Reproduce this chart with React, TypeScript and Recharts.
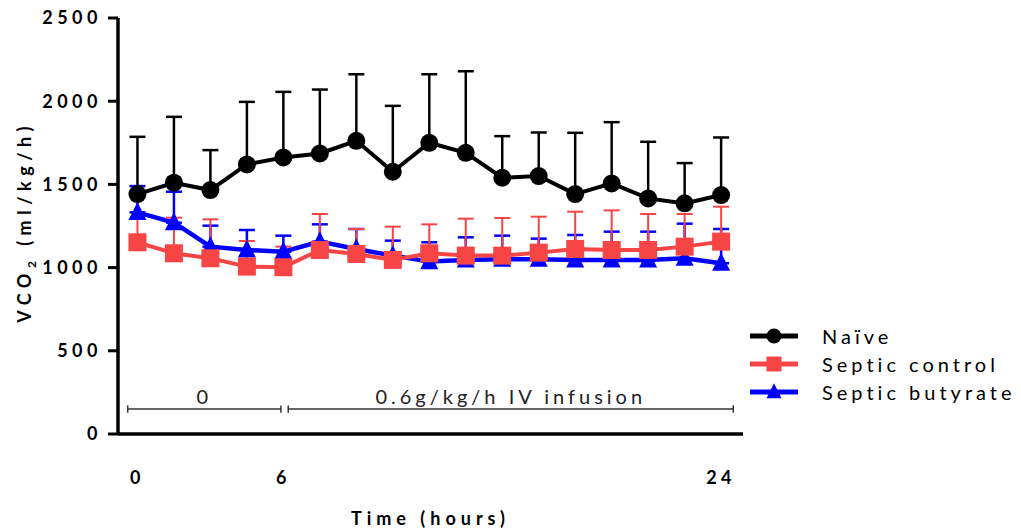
import {
  ComposedChart,
  Line,
  XAxis,
  YAxis,
  ErrorBar,
  ReferenceLine,
  Legend,
} from 'recharts';

// sampling times (h)
const HOURS = [0, 1.5, 3, 4.5, 6, 7.5, 9, 10.5, 12, 13.5, 15, 16.5, 18, 19.5, 21, 22.5, 24];

// VCO2 means and SD (ml/kg/h)
const NAIVE = [1442, 1510, 1466, 1620, 1662, 1686, 1762, 1576, 1750, 1690, 1540, 1550, 1442, 1506, 1416, 1386, 1436];
const NAIVE_SD = [344, 396, 240, 376, 394, 384, 400, 396, 412, 490, 250, 262, 368, 368, 340, 242, 346];

const SEPTIC_CONTROL = [1152, 1086, 1056, 1006, 1002, 1106, 1082, 1046, 1086, 1072, 1072, 1090, 1112, 1106, 1106, 1126, 1156];
const SEPTIC_CONTROL_SD = [298, 214, 234, 154, 124, 216, 150, 200, 174, 222, 226, 216, 224, 238, 216, 196, 210];

const SEPTIC_BUTYRATE = [1332, 1270, 1126, 1106, 1096, 1156, 1112, 1072, 1036, 1046, 1050, 1050, 1046, 1046, 1046, 1056, 1026];
const SEPTIC_BUTYRATE_SD = [158, 186, 126, 120, 96, 104, 120, 90, 116, 136, 142, 124, 150, 170, 170, 208, 206];

const X_TICKS = [0, 6, 24];
const Y_TICKS = [0, 500, 1000, 1500, 2000, 2500];

// infusion periods shown as brackets above the x axis
const PERIODS = [
  { from: -0.4, to: 5.9, label: '0' },
  { from: 6.2, to: 24.5, label: '0.6g/kg/h IV infusion' },
];
const PERIOD_Y = 150;
const CAP = 22;

const FONT = 'Lato, "Open Sans", sans-serif';
const RED = '#F74545';
const BLUE = '#0000FF';

type MarkerKind = 'circle' | 'square' | 'triangle';

const SERIES: Array<{ key: string; name: string; color: string; marker: MarkerKind }> = [
  { key: 'naive', name: 'Naïve', color: '#000000', marker: 'circle' },
  { key: 'control', name: 'Septic control', color: RED, marker: 'square' },
  { key: 'butyrate', name: 'Septic butyrate', color: BLUE, marker: 'triangle' },
];

const chartData = HOURS.map((hour, i) => ({
  hour,
  naive: NAIVE[i],
  naiveSd: [0, NAIVE_SD[i]],
  control: SEPTIC_CONTROL[i],
  controlSd: [0, SEPTIC_CONTROL_SD[i]],
  butyrate: SEPTIC_BUTYRATE[i],
  butyrateSd: [0, SEPTIC_BUTYRATE_SD[i]],
}));

function Marker({ kind, cx, cy, size, color }: { kind: MarkerKind; cx: number; cy: number; size: number; color: string }) {
  if (kind === 'circle') return <circle cx={cx} cy={cy} r={size / 2} fill={color} />;
  if (kind === 'square')
    return <rect x={cx - size / 2} y={cy - size / 2} width={size} height={size} fill={color} />;
  const pts = `${cx},${cy - size * 0.58} ${cx - size / 2},${cy + size * 0.42} ${cx + size / 2},${cy + size * 0.42}`;
  return <polygon points={pts} fill={color} />;
}

const makeDot = (kind: MarkerKind, color: string) => (props: any) => {
  const { cx, cy, index } = props;
  return (
    <g key={`${kind}-${index}`}>
      <Marker kind={kind} cx={cx} cy={cy} size={18} color={color} />
    </g>
  );
};

function LegendContent() {
  return (
    <div style={{ fontFamily: FONT, fontSize: 20, letterSpacing: 4, color: '#000' }}>
      {SERIES.map((s) => (
        <div key={s.key} style={{ display: 'flex', alignItems: 'center', height: 28 }}>
          <svg width={48} height={20} style={{ display: 'block' }}>
            <line x1={0} y1={10} x2={48} y2={10} stroke={s.color} strokeWidth={5} />
            <Marker kind={s.marker} cx={24} cy={10} size={15} color={s.color} />
          </svg>
          <span style={{ marginLeft: 24, whiteSpace: 'nowrap' }}>{s.name}</span>
        </div>
      ))}
    </div>
  );
}

function YTitle(props: any) {
  const { x, y, height } = props.viewBox;
  const cx = x + 31;
  const cy = y + height / 2 - 4;
  return (
    <text
      x={cx}
      y={cy}
      transform={`rotate(-90, ${cx}, ${cy})`}
      textAnchor="middle"
      fontFamily={FONT}
      fontWeight={700}
      fontSize={18}
      letterSpacing={5.5}
      fill="#000"
    >
      VCO
      <tspan dy={5} fontSize={12}>2</tspan>
      <tspan dy={-5}> (ml/kg/h)</tspan>
    </text>
  );
}

const tickStyle = {
  fontSize: 18,
  fontWeight: 700,
  fill: '#000',
  fontFamily: FONT,
  letterSpacing: 4.5,
};

export default function App() {
  return (
    <div style={{ position: 'absolute', left: 0, top: 0, width: 1021, height: 531, background: '#fff' }}>
      <ComposedChart
        width={1021}
        height={531}
        data={chartData}
        margin={{ top: 18, right: 278, bottom: 0, left: 0 }}
      >
        <XAxis
          dataKey="hour"
          type="number"
          domain={[-0.8, 24.9]}
          ticks={X_TICKS}
          allowDataOverflow
          height={97}
          tickLine={false}
          tickSize={6}
          tickMargin={31}
          axisLine={{ stroke: '#000', strokeWidth: 3.5 }}
          tick={tickStyle}
          label={{
            value: 'Time (hours)',
            position: 'insideBottom',
            offset: 6,
            fontFamily: FONT,
            fontWeight: 700,
            fontSize: 18,
            letterSpacing: 5,
            fill: '#000',
          }}
        />
        <YAxis
          type="number"
          domain={[0, 2500]}
          ticks={Y_TICKS}
          width={118}
          tickSize={10}
          tickMargin={6}
          axisLine={{ stroke: '#000', strokeWidth: 3.5 }}
          tickLine={{ stroke: '#000', strokeWidth: 3 }}
          tick={tickStyle}
          label={{ content: <YTitle /> }}
        />

        {PERIODS.map((p) => [
          <ReferenceLine
            key={`${p.label}-line`}
            segment={[{ x: p.from, y: PERIOD_Y }, { x: p.to, y: PERIOD_Y }]}
            stroke="#333"
            strokeWidth={1.5}
            label={{
              value: p.label,
              position: 'top',
              offset: 5,
              fontFamily: FONT,
              fontSize: 20,
              letterSpacing: 4,
              fill: '#222',
            }}
          />,
          <ReferenceLine
            key={`${p.label}-start`}
            segment={[{ x: p.from, y: PERIOD_Y - CAP }, { x: p.from, y: PERIOD_Y + CAP }]}
            stroke="#333"
            strokeWidth={1.5}
          />,
          <ReferenceLine
            key={`${p.label}-end`}
            segment={[{ x: p.to, y: PERIOD_Y - CAP }, { x: p.to, y: PERIOD_Y + CAP }]}
            stroke="#333"
            strokeWidth={1.5}
          />,
        ])}

        <Line
          dataKey="naive"
          name="Naïve"
          stroke="#000"
          strokeWidth={4}
          dot={makeDot('circle', '#000')}
          activeDot={false}
          isAnimationActive={false}
        >
          <ErrorBar dataKey="naiveSd" width={8} strokeWidth={2.5} stroke="#000" direction="y" />
        </Line>
        <Line
          dataKey="butyrate"
          name="Septic butyrate"
          stroke={BLUE}
          strokeWidth={4.5}
          dot={makeDot('triangle', BLUE)}
          activeDot={false}
          isAnimationActive={false}
        >
          <ErrorBar dataKey="butyrateSd" width={8} strokeWidth={2.5} stroke={BLUE} direction="y" />
        </Line>
        <Line
          dataKey="control"
          name="Septic control"
          stroke={RED}
          strokeWidth={4}
          dot={makeDot('square', RED)}
          activeDot={false}
          isAnimationActive={false}
        >
          <ErrorBar dataKey="controlSd" width={8} strokeWidth={2} stroke={RED} direction="y" />
        </Line>

        <Legend
          layout="vertical"
          align="center"
          verticalAlign="middle"
          content={<LegendContent />}
          wrapperStyle={{ left: 750, top: 322, width: 271, right: 'auto', bottom: 'auto' }}
        />
      </ComposedChart>
    </div>
  );
}
